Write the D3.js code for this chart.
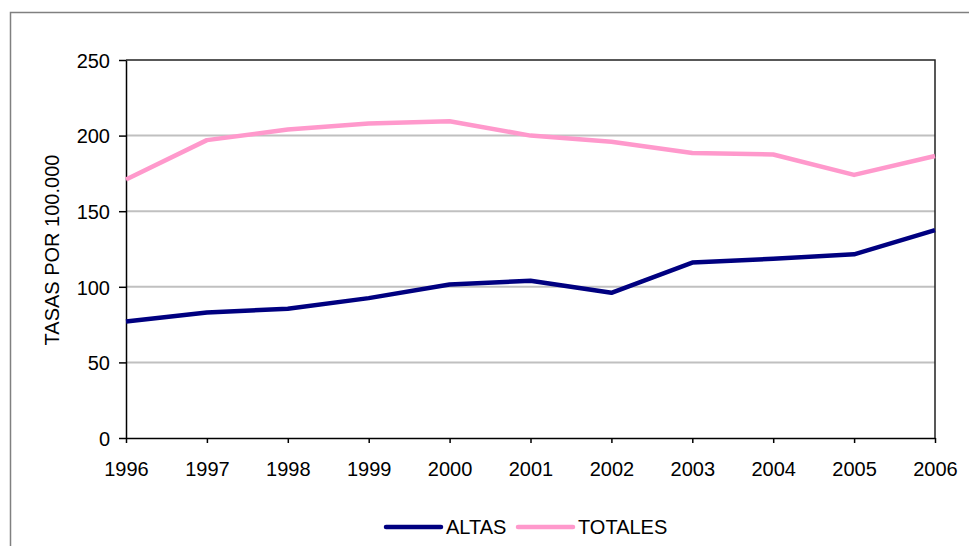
<!DOCTYPE html>
<meta charset='utf-8'>
<style>
  body { margin: 0; background: #fff; }
  text { font-family: 'Liberation Sans', Arial, sans-serif; fill: #000; }
  .grid line { stroke: #c0c0c0; stroke-width: 2; }
  .axis path, .axis line { stroke: #000; stroke-width: 1.5; }
  .axis text { font-size: 20px; }
</style>
<svg width='969' height='546'></svg>
<script src="https://d3js.org/d3.v7.min.js"></script>
<script>
  var years = [1996, 1997, 1998, 1999, 2000, 2001, 2002, 2003, 2004, 2005, 2006];
  var altas = [77, 83, 85.5, 92.5, 101.5, 104, 96, 116, 118.5, 121.5, 137.5];
  var totales = [171, 197, 204, 208, 209.5, 200, 196, 188.5, 187.5, 174, 186.5];
  var yTicks = [0, 50, 100, 150, 200, 250];
  var seriesNames = ['ALTAS', 'TOTALES'];
  var seriesColors = ['#000080', '#ff99cc'];

  var svg = d3.select('svg'),
    margin = {left: 126, top: 60, right: 34, bottom: 108},
    width = 969 - margin.left - margin.right,
    height = 546 - margin.top - margin.bottom;

  // outer chart frame (cut by the page edge on the right and bottom)
  svg.append('rect')
    .attr('x', 10.5).attr('y', 12.5)
    .attr('width', 1000).attr('height', 600)
    .attr('fill', 'none').attr('stroke', '#808080').attr('stroke-width', 1.5);

  var x = d3.scalePoint().domain(years).range([0, width]);
  var y = d3.scaleLinear().domain([0, 250]).range([height, 0]);

  var g = svg.append('g').attr('transform', 'translate(' + margin.left + ',' + margin.top + ')');

  g.append('g').attr('class', 'grid')
    .selectAll('line').data(yTicks.filter(function(d) { return d > 0 && d < 250; }))
    .enter().append('line')
    .attr('x1', 0).attr('x2', width)
    .attr('y1', function(d) { return y(d); })
    .attr('y2', function(d) { return y(d); });

  // plot area top and right edges
  g.append('path')
    .attr('d', 'M0,' + y(250) + 'H' + width + 'V' + height)
    .attr('fill', 'none').attr('stroke', '#222').attr('stroke-width', 1.5);

  var yAxis = g.append('g').attr('class', 'axis')
    .call(d3.axisLeft(y).tickValues(yTicks).tickSize(7).tickPadding(9).tickSizeOuter(0));
  yAxis.selectAll('text').attr('dy', '0.36em');

  var xAxis = g.append('g').attr('class', 'axis')
    .attr('transform', 'translate(0,' + height + ')')
    .call(d3.axisBottom(x).tickSize(5).tickPadding(19).tickSizeOuter(0));
  xAxis.selectAll('.tick line').attr('stroke', '#666');

  svg.append('text')
    .attr('transform', 'translate(59,250) rotate(-90)')
    .attr('text-anchor', 'middle')
    .style('font-size', '20px')
    .text('TASAS POR 100.000');

  var line = d3.line()
    .x(function(d, i) { return x(years[i]); })
    .y(function(d) { return y(d); });

  g.selectAll('.series').data([altas, totales])
    .enter().append('path')
    .attr('class', 'series')
    .attr('d', line)
    .attr('fill', 'none')
    .attr('stroke', function(d, i) { return seriesColors[i]; })
    .attr('stroke-width', 4.5)
    .attr('stroke-linejoin', 'round');

  var legend = svg.append('g').attr('transform', 'translate(386,527)');
  var legendX = [0, 132];
  seriesNames.forEach(function(name, i) {
    var item = legend.append('g').attr('transform', 'translate(' + legendX[i] + ',0)');
    item.append('line')
      .attr('x1', 0).attr('x2', 55)
      .attr('stroke', seriesColors[i]).attr('stroke-width', 4.5)
      .attr('stroke-linecap', 'round');
    item.append('text')
      .attr('x', 60).attr('dy', '0.36em')
      .style('font-size', '20px')
      .text(name);
  });
</script>
